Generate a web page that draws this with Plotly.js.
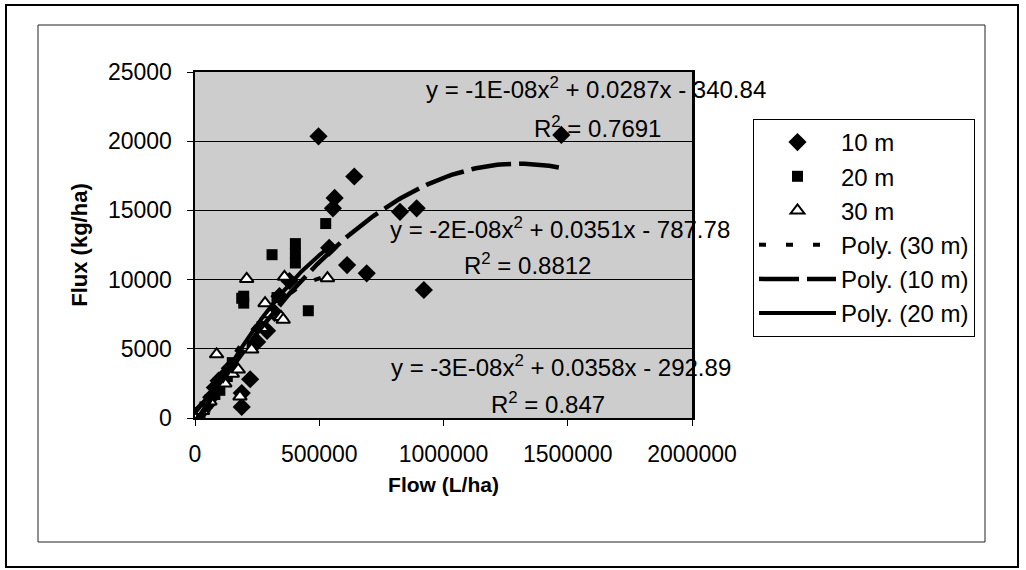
<!DOCTYPE html>
<html>
<head>
<meta charset="utf-8">
<script src="https://cdn.plot.ly/plotly-3.0.1.min.js"></script>
<style>html,body{margin:0;padding:0;background:#fff;}#chart{width:1026px;height:570px;}</style>
</head>
<body>
<div id="chart"></div>
<script>
// ---- data ----
const flow10 = [0, 10000, 20000, 35000, 50000, 65000, 80000, 95000, 110000, 140000, 188000, 188000, 222000, 250000, 290000, 320000, 340000, 380000, 497000, 540000, 555000, 562000, 612000, 641000, 691000, 825000, 892000, 921000, 1474000];
const flux10 = [0, 200, 450, 700, 1000, 1500, 2200, 2700, 2900, 3600, 800, 1800, 2800, 5500, 6300, 7600, 8800, 9900, 20350, 12300, 15150, 15900, 11050, 17450, 10450, 14900, 15150, 9250, 20450];

const flow20 = [0, 20000, 40000, 60000, 80000, 100000, 130000, 150000, 188000, 196000, 196000, 230000, 270000, 310000, 330000, 404000, 404000, 404000, 456000, 526000];
const flux20 = [0, 400, 800, 1300, 1700, 2000, 3000, 4000, 8650, 8300, 8800, 5200, 6600, 11800, 8700, 12600, 11900, 11200, 7750, 14050];

const flow30 = [0, 30000, 60000, 87000, 120000, 150000, 174000, 181000, 208000, 228000, 270000, 282000, 300000, 346000, 355000, 360000, 533000];
const flux30 = [0, 500, 1200, 4600, 2500, 3200, 3500, 1550, 10050, 4950, 6500, 8300, 7500, 7300, 7100, 10200, 10100];

// polynomial trendline coefficients [a, b, c] for y = a x^2 + b x + c (from the equation labels)
const poly10 = [-1.1e-8, 0.0287, -340.84];
const poly20 = [-2e-8, 0.0351, -787.78];
const poly30 = [-3e-8, 0.0358, -292.89];

const seriesNames = ['10 m', '20 m', '30 m'];
const trendNames = ['Poly. (30 m)', 'Poly. (10 m)', 'Poly. (20 m)'];
const eqLabels = [
  'y = -1E-08x<sup>2</sup> + 0.0287x - 340.84', 'R<sup>2</sup> = 0.7691',
  'y = -2E-08x<sup>2</sup> + 0.0351x - 787.78', 'R<sup>2</sup> = 0.8812',
  'y = -3E-08x<sup>2</sup> + 0.0358x - 292.89', 'R<sup>2</sup> = 0.847'
];
const xTicks = [0, 500000, 1000000, 1500000, 2000000];
const yTicks = [0, 5000, 10000, 15000, 20000, 25000];

// ---- trendline curves (quadratic over the data range) ----
function trend(coef, xs) {
  const lo = Math.min(...xs), hi = Math.max(...xs);
  const X = [], Y = [];
  const n = 120;
  for (let i = 0; i <= n; i++) {
    const x = lo + (hi - lo) * i / n;
    X.push(x); Y.push(coef[0] * x * x + coef[1] * x + coef[2]);
  }
  return {X, Y};
}
const t10 = trend(poly10, flow10), t20 = trend(poly20, flow20), t30 = trend(poly30, flow30);

// ---- layout geometry (pixels) ----
const L = 195, R = 692, T = 72, B = 418, W = 1026, H = 570;
const px = v => (v - L) / (R - L);
const py = v => (B - v) / (B - T);
const FONT = 'Arial, "Liberation Sans", sans-serif';

const traces = [
  {x: flow10, y: flux10, name: seriesNames[0], type: 'scatter', mode: 'markers',
   marker: {symbol: 'diamond', size: 14, color: '#000'}},
  {x: flow20, y: flux20, name: seriesNames[1], type: 'scatter', mode: 'markers',
   marker: {symbol: 'square', size: 11, color: '#000'}},
  {x: flow30, y: flux30, name: seriesNames[2], type: 'scatter', mode: 'markers',
   marker: {symbol: 'triangle-up', size: 12, color: '#fff', line: {color: '#000', width: 2}}},
  {x: t30.X, y: t30.Y, name: trendNames[0], type: 'scatter', mode: 'lines',
   line: {color: '#000', width: 4, dash: '7px,20px'}},
  {x: t10.X, y: t10.Y, name: trendNames[1], type: 'scatter', mode: 'lines',
   line: {color: '#000', width: 4.5, dash: '40px,8px'}},
  {x: t20.X, y: t20.Y, name: trendNames[2], type: 'scatter', mode: 'lines',
   line: {color: '#000', width: 4}}
];

const eqPos = [[596, 88], [597, 127], [560, 228], [527, 264], [561, 366], [548, 403]];
const annotations = eqLabels.map((t, i) => ({
  text: t, xref: 'paper', yref: 'paper', x: px(eqPos[i][0]), y: py(eqPos[i][1]),
  xanchor: 'center', yanchor: 'middle', showarrow: false,
  font: {family: FONT, size: 24, color: '#000'}
}));

const shapes = [
  {type: 'rect', xref: 'paper', yref: 'paper', x0: px(6), x1: px(1018), y0: py(567), y1: py(5),
   line: {color: '#000', width: 2}, fillcolor: 'rgba(0,0,0,0)'},
  {type: 'rect', xref: 'paper', yref: 'paper', x0: px(38), x1: px(985), y0: py(542), y1: py(25),
   line: {color: '#222', width: 1}, fillcolor: 'rgba(0,0,0,0)'}
];

const layout = {
  width: W, height: H,
  margin: {l: L, r: W - R, t: T, b: H - B, pad: 0},
  paper_bgcolor: '#fff', plot_bgcolor: '#cdcdcd',
  font: {family: FONT, size: 22, color: '#000'},
  showlegend: true,
  legend: {x: px(753), y: py(119), xanchor: 'left', yanchor: 'top',
           bgcolor: '#fff', bordercolor: '#000', borderwidth: 1,
           font: {family: FONT, size: 24, color: '#000'}, itemwidth: 77, traceorder: 'normal',
           tracegroupgap: 0, valign: 'middle'},
  xaxis: {range: [0, 2000000], tickvals: xTicks, ticktext: xTicks.map(String),
          showgrid: false, zeroline: false, showline: true, linecolor: '#000', linewidth: 2, mirror: true,
          ticks: 'outside', ticklen: 6, tickcolor: '#000', ticklabelstandoff: 8,
          tickfont: {family: FONT, size: 23, color: '#000'},
          title: {text: '<b>Flow (L/ha)</b>', font: {family: FONT, size: 21, color: '#000'}, standoff: 12}},
  yaxis: {range: [0, 25000], tickvals: yTicks, ticktext: yTicks.map(String),
          showgrid: true, gridcolor: '#000', gridwidth: 1.3, zeroline: false,
          showline: true, linecolor: '#000', linewidth: 2.5, mirror: true,
          ticks: 'outside', ticklen: 6, tickcolor: '#000', ticklabelstandoff: 10,
          tickfont: {family: FONT, size: 23, color: '#000'},
          title: {text: '<b>Flux (kg/ha)</b>', font: {family: FONT, size: 22, color: '#000'}, standoff: 14}},
  annotations: annotations,
  shapes: shapes
};

Plotly.newPlot('chart', traces, layout, {displayModeBar: false, staticPlot: true});
</script>
</body>
</html>
